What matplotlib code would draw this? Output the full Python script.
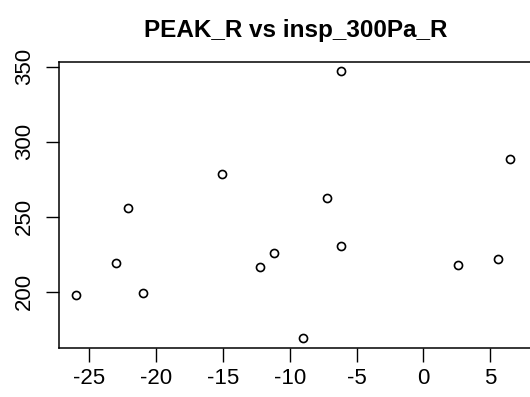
import matplotlib
matplotlib.use("Agg")
import matplotlib.pyplot as plt

# insp_300Pa_R (x) vs PEAK_R (y)
insp_300pa_r = [-26.0, -23.0, -22.1, -21.0, -15.1, -12.2, -11.2, -9.0,
                -7.2, -6.2, -6.2, 2.6, 5.6, 6.5]
peak_r = [197.8, 218.9, 255.8, 198.9, 278.3, 216.3, 225.6, 168.9,
          262.5, 346.9, 230.7, 217.6, 221.6, 288.7]
x_ticks = [-25, -20, -15, -10, -5, 0, 5]
y_ticks = [200, 250, 300, 350]

plt.rcParams['font.family'] = ['Liberation Sans', 'DejaVu Sans']

fig = plt.figure(figsize=(5.3, 3.97), dpi=100)
# plot region runs past the right edge, like the cropped original
ax = fig.add_axes([0.112, 0.1227, 0.892, 0.722])

ax.plot(insp_300pa_r, peak_r, linestyle='none', marker='o', ms=5.8,
        mfc='none', mec='black', mew=1.2)

ax.set_xlim(-27.25, 8.14)
ax.set_ylim(162.3, 353.3)
ax.set_xticks(x_ticks)
ax.set_xticklabels([str(t) for t in x_ticks])
ax.set_yticks(y_ticks)
ax.set_yticklabels([str(t) for t in y_ticks], rotation=90, va='center')

ax.tick_params(axis='x', length=10, width=1.0, pad=4.5, labelsize=16)
ax.tick_params(axis='y', length=9.5, width=1.0, pad=8, labelsize=16)
for s in ax.spines.values():
    s.set_linewidth(1.1)

fig.text(296 / 530, 1 - 30 / 397, 'PEAK_R vs insp_300Pa_R',
         ha='center', va='center', fontsize=17.5, fontweight='bold')

fig.savefig('out.png', dpi=100)
